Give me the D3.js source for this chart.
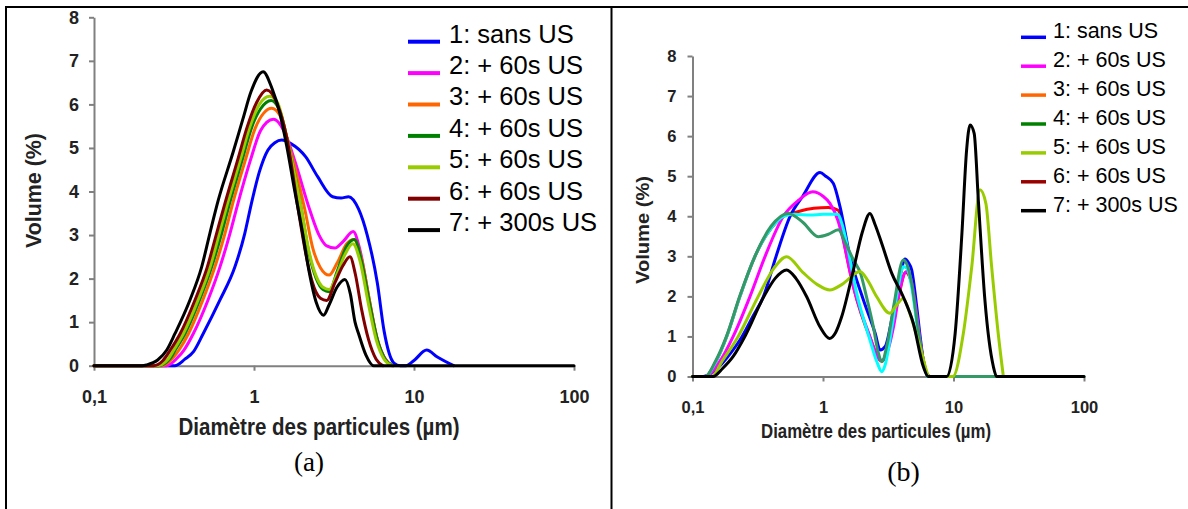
<!DOCTYPE html>
<html><head><meta charset="utf-8">
<script src="https://cdn.jsdelivr.net/npm/d3@7"></script>
<style>body{margin:0;background:#fff}svg{display:block}</style>
</head><body>
<svg id="chart" width="1188" height="509"></svg>
<script>
// ---------- DATA ----------
const xTickValues = [0.1, 1, 10, 100];
const xTickLabels = ["0,1", "1", "10", "100"];
const yTickValues = [0, 1, 2, 3, 4, 5, 6, 7, 8];
const legendLabels = ["1: sans US", "2: + 60s US", "3: + 60s US", "4: + 60s US", "5: + 60s US", "6: + 60s US", "7: + 300s US"];
const xTitle = "Diamètre des particules (µm)";
const yTitle = "Volume (%)";
const panelLabels = ["(a)", "(b)"];

// Panel (a): [diameter µm, volume %]
const a1 = [[0.1,0],[0.32,0],[0.37,0.15],[0.42,0.33],[0.482,0.74],[0.613,1.51],[0.76,2.27],[0.876,3.04],[0.96,3.7],[1.08,4.45],[1.22,4.95],[1.35,5.12],[1.49,5.18],[1.7,5.1],[2.1,4.8],[2.5,4.34],[3.1,3.88],[3.5,3.85],[3.9,3.88],[4.5,3.6],[5.1,3.0],[5.9,1.9],[6.5,0.8],[7.5,0.06],[8.2,0],[8.9,0],[10,0.12],[12,0.36],[14,0.2],[17.7,0]];
const a2 = [[0.1,0],[0.284,0],[0.33,0.17],[0.365,0.36],[0.418,0.74],[0.516,1.51],[0.613,2.27],[0.708,3.04],[0.79,3.7],[0.95,4.72],[1.1,5.4],[1.32,5.66],[1.45,5.55],[1.6,5.25],[1.8,4.7],[2.23,3.58],[2.55,3.0],[2.85,2.75],[3.2,2.7],[3.6,2.85],[4.17,3.08],[4.6,2.65],[5.2,1.6],[5.8,0.7],[6.5,0.2],[7.3,0]];
const a3 = [[0.1,0],[0.265,0],[0.31,0.17],[0.34,0.36],[0.39,0.74],[0.479,1.51],[0.57,2.27],[0.659,3.04],[0.733,3.7],[0.883,4.72],[1.017,5.45],[1.15,5.8],[1.29,5.91],[1.45,5.75],[1.6,5.25],[2.08,3.58],[2.33,2.7],[2.6,2.25],[2.95,2.08],[3.3,2.35],[3.8,2.8],[4.2,2.9],[4.7,2.45],[5.3,1.45],[5.9,0.6],[6.6,0.15],[7.4,0]];
const a4 = [[0.1,0],[0.252,0],[0.3,0.17],[0.322,0.36],[0.371,0.74],[0.457,1.51],[0.544,2.27],[0.628,3.04],[0.7,3.7],[0.843,4.72],[0.971,5.49],[1.1,5.9],[1.28,6.09],[1.45,5.85],[1.6,5.25],[1.98,3.58],[2.2,2.6],[2.45,2.0],[2.7,1.75],[2.95,1.7],[3.3,2.15],[3.8,2.75],[4.25,2.9],[4.7,2.4],[5.3,1.4],[5.9,0.6],[6.6,0.15],[7.4,0]];
const a5 = [[0.1,0],[0.246,0],[0.29,0.15],[0.315,0.36],[0.362,0.74],[0.447,1.51],[0.532,2.27],[0.607,3.04],[0.68,3.7],[0.82,4.72],[0.943,5.49],[1.08,6.0],[1.25,6.19],[1.4,6.05],[1.6,5.25],[1.98,3.58],[2.2,2.65],[2.45,2.05],[2.7,1.8],[2.95,1.75],[3.3,2.1],[3.7,2.55],[4.15,2.8],[4.6,2.4],[5.2,1.4],[5.8,0.6],[6.5,0.15],[7.3,0]];
const a6 = [[0.1,0],[0.235,0],[0.27,0.12],[0.3,0.36],[0.346,0.74],[0.428,1.51],[0.511,2.27],[0.584,3.04],[0.655,3.7],[0.79,4.72],[0.908,5.49],[1.04,6.05],[1.2,6.33],[1.4,6.0],[1.6,5.25],[1.89,3.58],[2.1,2.6],[2.3,1.95],[2.6,1.55],[2.85,1.5],[3.2,1.9],[3.6,2.3],[3.98,2.5],[4.3,2.1],[4.7,1.3],[5.2,0.6],[5.8,0.15],[6.4,0]];
const a7 = [[0.1,0],[0.2,0],[0.214,0.02],[0.25,0.13],[0.285,0.36],[0.321,0.74],[0.398,1.51],[0.471,2.27],[0.53,3.04],[0.598,3.8],[0.74,4.9],[0.85,5.65],[0.96,6.3],[1.14,6.75],[1.3,6.35],[1.45,5.8],[1.6,5.05],[1.8,4.0],[2.0,3.1],[2.2,2.2],[2.45,1.45],[2.72,1.16],[2.95,1.4],[3.3,1.8],[3.7,1.98],[4.0,1.65],[4.28,1.0],[4.5,0.74],[5.0,0.25],[5.6,0],[100,0]];

// Panel (b): [diameter µm, volume %]
const b1 = [[0.1,0],[0.121,0],[0.15,0.16],[0.2,0.62],[0.231,0.91],[0.29,1.5],[0.349,1.99],[0.436,2.99],[0.558,3.99],[0.7,4.5],[0.949,5.09],[1.05,5.0],[1.2,4.82],[1.35,4.24],[1.61,2.99],[2.04,1.91],[2.51,1.08],[2.74,0.66],[3.0,0.75],[3.4,1.5],[3.9,2.5],[4.25,2.93],[4.5,2.85],[4.78,2.66],[5.2,1.8],[5.6,0.9],[6.0,0.2],[6.5,0]];
const b2 = [[0.1,0],[0.125,0],[0.16,0.35],[0.205,1.0],[0.276,2.0],[0.36,3.0],[0.497,4.0],[0.65,4.4],[0.834,4.61],[1.0,4.5],[1.13,4.32],[1.3,3.9],[1.43,3.4],[1.71,2.24],[2.29,0.99],[2.6,0.5],[2.82,0.4],[3.1,0.6],[3.5,1.3],[3.9,2.2],[4.38,2.62],[4.7,2.45],[5.2,1.6],[5.6,0.8],[6.1,0.15],[6.5,0]];
const b3 = [[0.1,0],[0.125,0],[0.15,0.35],[0.183,1.0],[0.231,2.0],[0.301,3.0],[0.4,3.7],[0.5,4.0],[0.65,4.12],[0.85,4.2],[1.1,4.22],[1.31,4.15],[1.43,3.45],[1.71,2.24],[2.29,0.97],[2.82,0.38],[3.2,0.8],[3.8,2.0],[4.3,2.6],[4.8,2.3],[5.3,1.3],[5.8,0.5],[6.3,0]];
const b4 = [[0.1,0],[0.125,0],[0.15,0.35],[0.183,1.0],[0.231,2.0],[0.301,3.0],[0.4,3.7],[0.5,4.0],[0.6,4.05],[0.8,4.03],[1.0,4.05],[1.3,4.05],[1.4,3.8],[1.52,3.32],[1.81,2.08],[2.29,0.91],[2.6,0.35],[2.82,0.12],[3.0,0.3],[3.4,1.3],[3.8,2.3],[4.12,2.74],[4.4,2.7],[4.8,2.2],[5.3,1.2],[5.8,0.4],[6.3,0]];
const b5 = [[0.1,0],[0.125,0],[0.15,0.38],[0.183,1.02],[0.231,2.02],[0.301,3.0],[0.4,3.75],[0.542,4.07],[0.7,3.85],[0.92,3.49],[1.1,3.55],[1.31,3.66],[1.5,3.3],[1.71,2.91],[1.95,2.55],[2.15,2.0],[2.43,1.24],[2.65,0.6],[2.82,0.37],[3.1,0.8],[3.5,1.8],[4.12,2.91],[4.4,2.8],[4.8,2.3],[5.3,1.3],[5.8,0.5],[6.5,0],[100,0]];
const b6 = [[0.1,0],[0.14,0],[0.17,0.4],[0.224,1.0],[0.319,2.0],[0.42,2.7],[0.527,2.99],[0.7,2.6],[0.9,2.3],[1.13,2.16],[1.4,2.3],[1.92,2.62],[2.2,2.4],[2.58,1.99],[3.26,1.58],[3.6,1.75],[4.12,1.95],[4.6,1.6],[5.54,0.74],[6.6,0],[9.9,0],[11.9,1.08],[13.8,2.74],[15.96,4.66],[17.7,4.32],[19.6,2.74],[22,1.08],[24.1,0]];
const b7 = [[0.1,0],[0.144,0],[0.17,0.2],[0.205,0.5],[0.252,1.0],[0.353,2.0],[0.43,2.45],[0.527,2.66],[0.62,2.45],[0.75,1.99],[0.948,1.24],[1.12,0.95],[1.25,1.1],[1.39,1.49],[1.71,2.66],[2.0,3.6],[2.29,4.07],[2.5,3.8],[2.82,3.32],[3.36,2.58],[4.12,1.99],[4.92,1.33],[5.87,0.25],[6.4,0],[8.87,0],[10.3,1.08],[11.6,3.57],[12.6,5.65],[13.4,6.28],[14.4,6.07],[15.5,4.4],[17.4,1.91],[20.2,0.25],[21.4,0],[100,0]];

const seriesA = [a1, a2, a3, a4, a5, a6, a7];
const seriesB = [b3, b1, b2, b4, b5, b6, b7];   // drawing order (red underneath)
const colorsA = ["#0000FF", "#FF00FF", "#FF6600", "#008000", "#99CC00", "#800000", "#000000"];
const colorsB = ["#FF0000", "#0000FF", "#FF00FF", "#00FFFF", "#339966", "#99CC00", "#000000"];
const legendColorsB = ["#0000FF", "#FF00FF", "#FF6600", "#008000", "#99CC00", "#990000", "#000000"];

// ---------- LAYOUT ----------
const svg = d3.select("#chart");
const FONT = "'Liberation Sans', Arial, sans-serif";

const frame = svg.append("g").attr("stroke", "#000").attr("stroke-width", 2);
frame.append("line").attr("x1", 5).attr("x2", 1188).attr("y1", 7).attr("y2", 7);
frame.append("line").attr("x1", 6).attr("x2", 6).attr("y1", 6).attr("y2", 509);
frame.append("line").attr("x1", 611.5).attr("x2", 611.5).attr("y1", 6).attr("y2", 509);

const panels = [
  { series: seriesA, colors: colorsA, legendColors: colorsA,
    xr: [94, 574], yr: [365.7, 17.3], tickFont: 18, tickPadY: 10, tickPadX: 20,
    xTitle: { x: 319, y: 435, size: 23, len: 281 },
    yTitle: { x: 41, y: 190.5, size: 22, len: 115 },
    label: { x: 309, y: 471, size: 27 },
    legend: { x1: 408, x2: 440, tx: 449, y0: 41.7, dy: 31.4, size: 25.5, sw: 4 } },
  { series: seriesB, colors: colorsB, legendColors: legendColorsB,
    xr: [692.5, 1084], yr: [376.5, 56], tickFont: 16.5, tickPadY: 11, tickPadX: 20,
    xTitle: { x: 876, y: 438, size: 21, len: 230 },
    yTitle: { x: 649, y: 230, size: 19, len: 108 },
    label: { x: 903.5, y: 481, size: 28 },
    legend: { x1: 1021, x2: 1046, tx: 1053, y0: 37.3, dy: 28.9, size: 21.5, sw: 3.5 } }
];

panels.forEach((p, pi) => {
  const x = d3.scaleLog().domain([0.1, 100]).range(p.xr);
  const y = d3.scaleLinear().domain([0, 8]).range(p.yr);
  const g = svg.append("g");

  const yAxis = g.append("g").attr("transform", `translate(${p.xr[0]},0)`)
    .call(d3.axisLeft(y).tickValues(yTickValues).tickFormat(d3.format("d")).tickSize(5).tickSizeOuter(0).tickPadding(p.tickPadY));
  const xAxis = g.append("g").attr("transform", `translate(0,${p.yr[0]})`)
    .call(d3.axisBottom(x).tickValues(xTickValues).tickFormat((d, i) => xTickLabels[i]).tickSize(5).tickSizeOuter(0).tickPadding(p.tickPadX));
  [yAxis, xAxis].forEach(ax => {
    ax.select(".domain").attr("stroke", "#808080").attr("stroke-width", 2);
    ax.selectAll(".tick line").attr("stroke", "#808080").attr("stroke-width", 2);
    ax.selectAll(".tick text").attr("fill", "#222").attr("font-family", FONT)
      .attr("font-weight", "bold").attr("font-size", p.tickFont);
  });

  const line = d3.line().x(d => x(d[0])).y(d => y(d[1])).curve(d3.curveMonotoneX);
  g.append("g").selectAll("path").data(p.series).join("path")
    .attr("d", line).attr("fill", "none")
    .attr("stroke", (d, i) => p.colors[i]).attr("stroke-width", 3)
    .attr("stroke-linejoin", "round").attr("stroke-linecap", "round");

  g.append("text").attr("x", p.xTitle.x).attr("y", p.xTitle.y).attr("text-anchor", "middle")
    .attr("font-family", FONT).attr("font-weight", "bold").attr("font-size", p.xTitle.size)
    .attr("fill", "#222").attr("textLength", p.xTitle.len).attr("lengthAdjust", "spacingAndGlyphs").text(xTitle);
  g.append("text").attr("transform", `translate(${p.yTitle.x},${p.yTitle.y}) rotate(-90)`)
    .attr("text-anchor", "middle").attr("font-family", FONT).attr("font-weight", "bold")
    .attr("font-size", p.yTitle.size).attr("fill", "#222")
    .attr("textLength", p.yTitle.len).attr("lengthAdjust", "spacingAndGlyphs").text(yTitle);

  g.append("text").attr("x", p.label.x).attr("y", p.label.y).attr("text-anchor", "middle")
    .attr("font-family", "'Liberation Serif', 'DejaVu Serif', serif").attr("font-size", p.label.size)
    .attr("fill", "#000").text(panelLabels[pi]);

  const lg = g.append("g");
  legendLabels.forEach((lab, i) => {
    const yy = p.legend.y0 + i * p.legend.dy;
    lg.append("line").attr("x1", p.legend.x1).attr("x2", p.legend.x2).attr("y1", yy).attr("y2", yy)
      .attr("stroke", p.legendColors[i]).attr("stroke-width", p.legend.sw);
    lg.append("text").attr("x", p.legend.tx).attr("y", yy + 0.8).attr("font-family", FONT)
      .attr("font-size", p.legend.size).attr("fill", "#000").text(lab);
  });
});
</script>
</body></html>
